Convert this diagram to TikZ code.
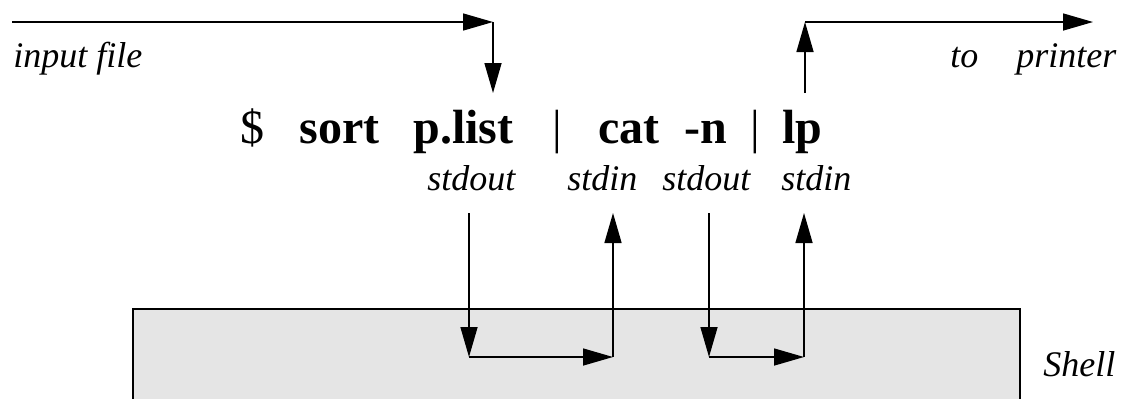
\documentclass[tikz,border=0pt]{standalone}
\usepackage{fontspec}
\setmainfont{Liberation Serif}
\usetikzlibrary{arrows.meta}
\definecolor{shellgray}{HTML}{E5E5E5}
\tikzset{
  arr/.style={line width=0.75pt, -{Triangle[length=15pt,width=8.5pt]}},
  lbl/.style={inner sep=0pt, anchor=base west, font=\fontsize{18}{22}\selectfont\itshape},
  cmd/.style={inner sep=0pt, anchor=base west, font=\fontsize{24}{28}\selectfont\bfseries},
  cmdr/.style={inner sep=0pt, anchor=base west, font=\fontsize{24}{28}\selectfont},
  shellbox/.style={fill=shellgray, draw=none}
}
\begin{document}
\begin{tikzpicture}[x=0.5pt,y=-0.5pt]
\useasboundingbox (0,0) rectangle (1123,398);
\clip (0,0) rectangle (1123,398);
% shell box
\fill[shellgray] (133,309) rectangle (1020,410);
\draw[line width=0.75pt] (133,410) -- (133,309) -- (1020,309) -- (1020,410);
% texts
\node[lbl] (infile) at (13,67) {input file};
\node[lbl] (toprinter) at (950,67) {to\hspace{19pt}printer};
\node[cmdr] (dollar) at (240,143) {\$};
\node[cmd] (sort) at (299,143) {sort};
\node[cmd] (plist) at (413,143) {p.list};
\node[cmdr] (pipe1) at (552,143) {|};
\node[cmd] (cat) at (598,143) {cat};
\node[cmd] (dashn) at (684,143) {-n};
\node[cmdr] (pipe2) at (750,143) {|};
\node[cmd] (lp) at (782,143) {lp};
\node[lbl] (out1) at (427,190) {stdout};
\node[lbl] (in1) at (567,190) {stdin};
\node[lbl] (out2) at (662,190) {stdout};
\node[lbl] (in2) at (781,190) {stdin};
\node[lbl] (shell) at (1043,376) {Shell};
% connector points
\coordinate (a0) at (12,22);
\coordinate (a1) at (493,22);
\coordinate (a2) at (493,93);
\coordinate (p1t) at (469,213);
\coordinate (p1b) at (469,357);
\coordinate (p2b) at (613,357);
\coordinate (p2t) at (613,213);
\coordinate (p3t) at (709,213);
\coordinate (p3b) at (709,357);
\coordinate (p4b) at (804,357);
\coordinate (p4t) at (804,213);
\coordinate (b0) at (805,93);
\coordinate (b1) at (805,22);
\coordinate (b2) at (1093,22);
% connectors
\draw[arr] (a0) -- (a1);
\draw[arr] (a1) -- (a2);
\draw[arr] (p1t) -- (p1b);
\draw[arr] (p1b) -- (p2b);
\draw[arr] (p2b) -- (p2t);
\draw[arr] (p3t) -- (p3b);
\draw[arr] (p3b) -- (p4b);
\draw[arr] (p4b) -- (p4t);
\draw[arr] (b0) -- (b1);
\draw[arr] (b1) -- (b2);
\end{tikzpicture}
\end{document}
